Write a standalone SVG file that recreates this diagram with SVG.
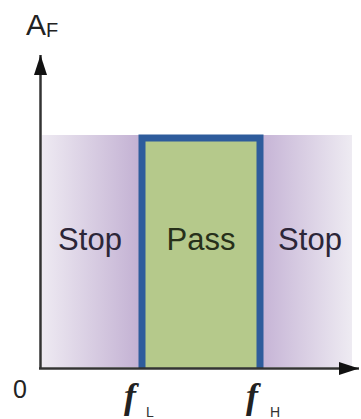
<svg xmlns="http://www.w3.org/2000/svg" width="361" height="419" viewBox="0 0 361 419">
  <defs>
    <linearGradient id="gl" x1="0" y1="0" x2="1" y2="0">
      <stop offset="0" stop-color="#eeeaf2"/>
      <stop offset="1" stop-color="#c3b1d3"/>
    </linearGradient>
    <linearGradient id="gr" x1="0" y1="0" x2="1" y2="0">
      <stop offset="0" stop-color="#c6b4d6"/>
      <stop offset="1" stop-color="#eeebf2"/>
    </linearGradient>
    <marker id="ah" viewBox="0 0 20 13" refX="20" refY="6.5" markerWidth="20" markerHeight="13" markerUnits="userSpaceOnUse" orient="auto">
      <path d="M0,0 L20,6.5 L0,13 z" fill="#111"/>
    </marker>
    <style>
      .lbl { font-family: "Liberation Sans", Arial, sans-serif; font-size: 31px; }
      .stop { fill: #2c2638; }
      .pass { fill: #27301a; }
      .f { font-family: "Liberation Serif", "Times New Roman", serif; font-style: italic; font-weight: bold; font-size: 36px; fill: #222; }
      .sub { font-family: "Liberation Sans", Arial, sans-serif; font-size: 14px; fill: #333; }
      .ax { stroke: #333; stroke-width: 2.5; fill: none; }
    </style>
  </defs>
  <rect width="361" height="419" fill="#ffffff"/>

  <g id="stop-left">
    <rect x="42" y="135" width="98" height="232" fill="url(#gl)"/>
    <text class="lbl stop" x="90" y="250" text-anchor="middle">Stop</text>
  </g>
  <g id="stop-right">
    <rect x="262" y="135" width="90" height="232" fill="url(#gr)"/>
    <text class="lbl stop" x="310" y="250" text-anchor="middle">Stop</text>
  </g>
  <g id="pass">
    <rect x="142" y="138" width="118" height="230" fill="#b5c98b"/>
    <path d="M142,368 V138 H260 V368" fill="none" stroke="#2e5c9c" stroke-width="7" stroke-linejoin="miter"/>
    <text class="lbl pass" x="201" y="250" text-anchor="middle">Pass</text>
  </g>

  <g id="connectors">
    <line class="ax" x1="40.5" y1="369" x2="40.5" y2="55" marker-end="url(#ah)"/>
    <line class="ax" x1="39" y1="368.5" x2="359" y2="368.5" marker-end="url(#ah)"/>
  </g>

  <g id="labels">
    <text x="26" y="35" font-family="Liberation Sans, Arial, sans-serif" font-size="30" fill="#222">A<tspan font-size="20" dy="2">F</tspan></text>
    <text x="13" y="398" font-family="Liberation Sans, Arial, sans-serif" font-size="25" fill="#222">0</text>
    <text class="f" x="124" y="408">f</text>
    <text class="sub" x="146" y="417">L</text>
    <text class="f" x="246" y="408">f</text>
    <text class="sub" x="270" y="417">H</text>
  </g>
</svg>
